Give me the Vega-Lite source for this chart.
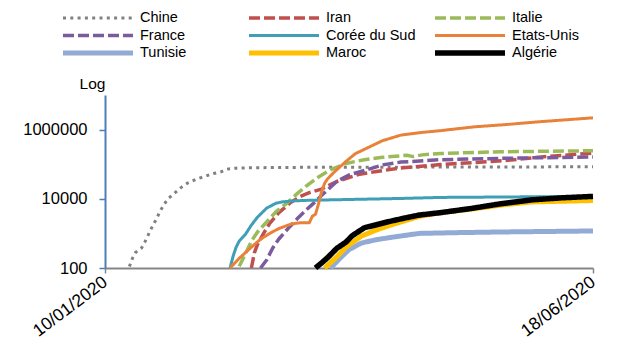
{
  "$schema": "https://vega.github.io/schema/vega-lite/v6.json",
  "autosize": {"type": "none"},
  "width": 488,
  "height": 173,
  "padding": {"left": 105, "top": 95, "right": 31, "bottom": 94},
  "background": "white",
  "config": {"view": {"stroke": null}, "font": "Liberation Sans"},
  "data": {"values": [
    {"pays": "Chine", "date": "2020-01-18", "cas": 110},
    {"pays": "Chine", "date": "2020-01-19", "cas": 190},
    {"pays": "Chine", "date": "2020-01-20", "cas": 280},
    {"pays": "Chine", "date": "2020-01-21", "cas": 330},
    {"pays": "Chine", "date": "2020-01-22", "cas": 380},
    {"pays": "Chine", "date": "2020-01-23", "cas": 550},
    {"pays": "Chine", "date": "2020-01-24", "cas": 830},
    {"pays": "Chine", "date": "2020-01-25", "cas": 1290},
    {"pays": "Chine", "date": "2020-01-26", "cas": 1900},
    {"pays": "Chine", "date": "2020-01-27", "cas": 2750},
    {"pays": "Chine", "date": "2020-01-28", "cas": 4270},
    {"pays": "Chine", "date": "2020-01-29", "cas": 6030},
    {"pays": "Chine", "date": "2020-01-30", "cas": 8300},
    {"pays": "Chine", "date": "2020-01-31", "cas": 10700},
    {"pays": "Chine", "date": "2020-02-02", "cas": 15100},
    {"pays": "Chine", "date": "2020-02-04", "cas": 21400},
    {"pays": "Chine", "date": "2020-02-06", "cas": 28200},
    {"pays": "Chine", "date": "2020-02-09", "cas": 37200},
    {"pays": "Chine", "date": "2020-02-12", "cas": 45000},
    {"pays": "Chine", "date": "2020-02-14", "cas": 52500},
    {"pays": "Chine", "date": "2020-02-17", "cas": 60000},
    {"pays": "Chine", "date": "2020-02-19", "cas": 72000},
    {"pays": "Chine", "date": "2020-02-22", "cas": 77000},
    {"pays": "Chine", "date": "2020-02-27", "cas": 79000},
    {"pays": "Chine", "date": "2020-03-10", "cas": 80800},
    {"pays": "Chine", "date": "2020-04-09", "cas": 82000},
    {"pays": "Chine", "date": "2020-05-19", "cas": 83000},
    {"pays": "Chine", "date": "2020-06-18", "cas": 84500},

    {"pays": "Iran", "date": "2020-02-27", "cas": 100},
    {"pays": "Iran", "date": "2020-02-28", "cas": 280},
    {"pays": "Iran", "date": "2020-02-29", "cas": 480},
    {"pays": "Iran", "date": "2020-03-02", "cas": 1000},
    {"pays": "Iran", "date": "2020-03-04", "cas": 1950},
    {"pays": "Iran", "date": "2020-03-07", "cas": 3980},
    {"pays": "Iran", "date": "2020-03-11", "cas": 7940},
    {"pays": "Iran", "date": "2020-03-14", "cas": 11700},
    {"pays": "Iran", "date": "2020-03-17", "cas": 15100},
    {"pays": "Iran", "date": "2020-03-21", "cas": 19100},
    {"pays": "Iran", "date": "2020-03-26", "cas": 31600},
    {"pays": "Iran", "date": "2020-04-02", "cas": 50100},
    {"pays": "Iran", "date": "2020-04-08", "cas": 61700},
    {"pays": "Iran", "date": "2020-04-16", "cas": 77600},
    {"pays": "Iran", "date": "2020-04-29", "cas": 97700},
    {"pays": "Iran", "date": "2020-05-10", "cas": 112000},
    {"pays": "Iran", "date": "2020-05-21", "cas": 129000},
    {"pays": "Iran", "date": "2020-06-01", "cas": 162000},
    {"pays": "Iran", "date": "2020-06-18", "cas": 209000},

    {"pays": "Italie", "date": "2020-02-23", "cas": 112},
    {"pays": "Italie", "date": "2020-02-25", "cas": 250},
    {"pays": "Italie", "date": "2020-02-27", "cas": 600},
    {"pays": "Italie", "date": "2020-02-29", "cas": 1100},
    {"pays": "Italie", "date": "2020-03-03", "cas": 2140},
    {"pays": "Italie", "date": "2020-03-06", "cas": 4170},
    {"pays": "Italie", "date": "2020-03-10", "cas": 7940},
    {"pays": "Italie", "date": "2020-03-13", "cas": 14100},
    {"pays": "Italie", "date": "2020-03-16", "cas": 23400},
    {"pays": "Italie", "date": "2020-03-20", "cas": 42700},
    {"pays": "Italie", "date": "2020-03-24", "cas": 69200},
    {"pays": "Italie", "date": "2020-03-29", "cas": 105000},
    {"pays": "Italie", "date": "2020-04-04", "cas": 135000},
    {"pays": "Italie", "date": "2020-04-10", "cas": 158000},
    {"pays": "Italie", "date": "2020-04-16", "cas": 174000},
    {"pays": "Italie", "date": "2020-04-18", "cas": 182000},
    {"pays": "Italie", "date": "2020-04-20", "cas": 166000},
    {"pays": "Italie", "date": "2020-04-23", "cas": 186000},
    {"pays": "Italie", "date": "2020-04-29", "cas": 204000},
    {"pays": "Italie", "date": "2020-05-19", "cas": 229000},
    {"pays": "Italie", "date": "2020-06-18", "cas": 245000},

    {"pays": "France", "date": "2020-03-01", "cas": 100},
    {"pays": "France", "date": "2020-03-03", "cas": 170},
    {"pays": "France", "date": "2020-03-05", "cas": 380},
    {"pays": "France", "date": "2020-03-07", "cas": 690},
    {"pays": "France", "date": "2020-03-10", "cas": 1380},
    {"pays": "France", "date": "2020-03-13", "cas": 2630},
    {"pays": "France", "date": "2020-03-16", "cas": 4790},
    {"pays": "France", "date": "2020-03-19", "cas": 8320},
    {"pays": "France", "date": "2020-03-22", "cas": 15100},
    {"pays": "France", "date": "2020-03-26", "cas": 31600},
    {"pays": "France", "date": "2020-03-30", "cas": 49000},
    {"pays": "France", "date": "2020-04-05", "cas": 69200},
    {"pays": "France", "date": "2020-04-10", "cas": 95500},
    {"pays": "France", "date": "2020-04-16", "cas": 115000},
    {"pays": "France", "date": "2020-04-29", "cas": 135000},
    {"pays": "France", "date": "2020-05-19", "cas": 148000},
    {"pays": "France", "date": "2020-06-18", "cas": 162000},

    {"pays": "Corée du Sud", "date": "2020-02-20", "cas": 100},
    {"pays": "Corée du Sud", "date": "2020-02-21", "cas": 220},
    {"pays": "Corée du Sud", "date": "2020-02-22", "cas": 400},
    {"pays": "Corée du Sud", "date": "2020-02-23", "cas": 600},
    {"pays": "Corée du Sud", "date": "2020-02-25", "cas": 930},
    {"pays": "Corée du Sud", "date": "2020-02-27", "cas": 1740},
    {"pays": "Corée du Sud", "date": "2020-02-29", "cas": 2950},
    {"pays": "Corée du Sud", "date": "2020-03-03", "cas": 5370},
    {"pays": "Corée du Sud", "date": "2020-03-06", "cas": 7400},
    {"pays": "Corée du Sud", "date": "2020-03-08", "cas": 8130},
    {"pays": "Corée du Sud", "date": "2020-03-12", "cas": 8700},
    {"pays": "Corée du Sud", "date": "2020-03-16", "cas": 9000},
    {"pays": "Corée du Sud", "date": "2020-03-24", "cas": 9330},
    {"pays": "Corée du Sud", "date": "2020-04-16", "cas": 10230},
    {"pays": "Corée du Sud", "date": "2020-04-29", "cas": 10960},
    {"pays": "Corée du Sud", "date": "2020-06-18", "cas": 11750},

    {"pays": "Etats-Unis", "date": "2020-02-20", "cas": 100},
    {"pays": "Etats-Unis", "date": "2020-02-23", "cas": 190},
    {"pays": "Etats-Unis", "date": "2020-02-27", "cas": 400},
    {"pays": "Etats-Unis", "date": "2020-03-01", "cas": 680},
    {"pays": "Etats-Unis", "date": "2020-03-04", "cas": 1000},
    {"pays": "Etats-Unis", "date": "2020-03-07", "cas": 1380},
    {"pays": "Etats-Unis", "date": "2020-03-11", "cas": 1860},
    {"pays": "Etats-Unis", "date": "2020-03-14", "cas": 2040},
    {"pays": "Etats-Unis", "date": "2020-03-17", "cas": 2040},
    {"pays": "Etats-Unis", "date": "2020-03-18", "cas": 3160},
    {"pays": "Etats-Unis", "date": "2020-03-19", "cas": 3550},
    {"pays": "Etats-Unis", "date": "2020-03-20", "cas": 7080},
    {"pays": "Etats-Unis", "date": "2020-03-21", "cas": 15800},
    {"pays": "Etats-Unis", "date": "2020-03-22", "cas": 28200},
    {"pays": "Etats-Unis", "date": "2020-03-23", "cas": 38000},
    {"pays": "Etats-Unis", "date": "2020-03-25", "cas": 57500},
    {"pays": "Etats-Unis", "date": "2020-03-27", "cas": 83200},
    {"pays": "Etats-Unis", "date": "2020-03-29", "cas": 120000},
    {"pays": "Etats-Unis", "date": "2020-04-01", "cas": 200000},
    {"pays": "Etats-Unis", "date": "2020-04-05", "cas": 295000},
    {"pays": "Etats-Unis", "date": "2020-04-10", "cas": 479000},
    {"pays": "Etats-Unis", "date": "2020-04-16", "cas": 692000},
    {"pays": "Etats-Unis", "date": "2020-04-22", "cas": 813000},
    {"pays": "Etats-Unis", "date": "2020-04-29", "cas": 933000},
    {"pays": "Etats-Unis", "date": "2020-05-10", "cas": 1200000},
    {"pays": "Etats-Unis", "date": "2020-05-21", "cas": 1410000},
    {"pays": "Etats-Unis", "date": "2020-06-01", "cas": 1700000},
    {"pays": "Etats-Unis", "date": "2020-06-18", "cas": 2190000},

    {"pays": "Tunisie", "date": "2020-03-24", "cas": 100},
    {"pays": "Tunisie", "date": "2020-03-27", "cas": 190},
    {"pays": "Tunisie", "date": "2020-03-30", "cas": 340},
    {"pays": "Tunisie", "date": "2020-04-03", "cas": 525},
    {"pays": "Tunisie", "date": "2020-04-08", "cas": 660},
    {"pays": "Tunisie", "date": "2020-04-14", "cas": 795},
    {"pays": "Tunisie", "date": "2020-04-22", "cas": 1000},
    {"pays": "Tunisie", "date": "2020-05-04", "cas": 1050},
    {"pays": "Tunisie", "date": "2020-05-19", "cas": 1100},
    {"pays": "Tunisie", "date": "2020-06-18", "cas": 1175},

    {"pays": "Maroc", "date": "2020-03-22", "cas": 100},
    {"pays": "Maroc", "date": "2020-03-26", "cas": 210},
    {"pays": "Maroc", "date": "2020-03-29", "cas": 400},
    {"pays": "Maroc", "date": "2020-04-03", "cas": 830},
    {"pays": "Maroc", "date": "2020-04-08", "cas": 1260},
    {"pays": "Maroc", "date": "2020-04-13", "cas": 1780},
    {"pays": "Maroc", "date": "2020-04-22", "cas": 3090},
    {"pays": "Maroc", "date": "2020-04-29", "cas": 3980},
    {"pays": "Maroc", "date": "2020-05-09", "cas": 5010},
    {"pays": "Maroc", "date": "2020-05-19", "cas": 6610},
    {"pays": "Maroc", "date": "2020-05-29", "cas": 8130},
    {"pays": "Maroc", "date": "2020-06-08", "cas": 8510},
    {"pays": "Maroc", "date": "2020-06-18", "cas": 8910},

    {"pays": "Algérie", "date": "2020-03-19", "cas": 100},
    {"pays": "Algérie", "date": "2020-03-21", "cas": 140},
    {"pays": "Algérie", "date": "2020-03-23", "cas": 200},
    {"pays": "Algérie", "date": "2020-03-26", "cas": 370},
    {"pays": "Algérie", "date": "2020-03-29", "cas": 560},
    {"pays": "Algérie", "date": "2020-03-31", "cas": 850},
    {"pays": "Algérie", "date": "2020-04-04", "cas": 1450},
    {"pays": "Algérie", "date": "2020-04-08", "cas": 1780},
    {"pays": "Algérie", "date": "2020-04-12", "cas": 2190},
    {"pays": "Algérie", "date": "2020-04-17", "cas": 2750},
    {"pays": "Algérie", "date": "2020-04-22", "cas": 3390},
    {"pays": "Algérie", "date": "2020-04-29", "cas": 3980},
    {"pays": "Algérie", "date": "2020-05-09", "cas": 5250},
    {"pays": "Algérie", "date": "2020-05-19", "cas": 7240},
    {"pays": "Algérie", "date": "2020-05-29", "cas": 9330},
    {"pays": "Algérie", "date": "2020-06-08", "cas": 10700},
    {"pays": "Algérie", "date": "2020-06-18", "cas": 11750}
  ]},
  "mark": {"type": "line", "strokeJoin": "round", "strokeCap": "butt"},
  "encoding": {
    "x": {
      "field": "date", "type": "temporal",
      "scale": {"type": "utc", "domain": [{"year": 2020, "month": 1, "date": 10, "utc": true}, {"year": 2020, "month": 6, "date": 18, "utc": true}]},
      "axis": {
        "title": null,
        "values": [{"year": 2020, "month": 1, "date": 10, "utc": true}, {"year": 2020, "month": 6, "date": 18, "utc": true}],
        "labelExpr": "utcFormat(datum.value, '%d/%m/%Y')",
        "labelAngle": -37, "labelAlign": "right", "labelBaseline": "middle",
        "labelFontSize": 17.5, "labelColor": "#000000", "labelPadding": 7,
        "labelFont": "Liberation Sans",
        "domainColor": "#868686", "domainWidth": 2,
        "tickColor": "#868686", "tickWidth": 1.5, "tickSize": 5,
        "grid": false, "labelOverlap": false, "labelBound": false
      }
    },
    "y": {
      "field": "cas", "type": "quantitative",
      "scale": {"type": "log", "domain": [100, 10000000]},
      "axis": {
        "title": "Log", "titleAngle": 0, "titleX": -13, "titleY": -7,
        "titleAlign": "center", "titleBaseline": "alphabetic",
        "titleFontSize": 15.5, "titleFontWeight": "normal", "titleColor": "#000000",
        "titleFont": "Liberation Sans",
        "values": [100, 10000, 1000000], "format": "d",
        "labelFontSize": 16.5, "labelColor": "#000000", "labelPadding": 12,
        "labelFont": "Liberation Sans",
        "domainColor": "#4A7EBB", "domainWidth": 2,
        "tickColor": "#4A7EBB", "tickWidth": 1.5, "tickSize": 6,
        "grid": false
      }
    },
    "color": {
      "field": "pays", "type": "nominal",
      "scale": {
        "domain": ["Chine", "Iran", "Italie", "France", "Corée du Sud", "Etats-Unis", "Tunisie", "Maroc", "Algérie"],
        "range": ["#808080", "#C0504D", "#9BBB59", "#7A5C9E", "#3E9FB6", "#E8823A", "#92ABD4", "#FFC000", "#000000"]
      },
      "legend": {
        "title": null, "orient": "none", "legendX": -45, "legendY": -85,
        "direction": "horizontal", "clipHeight": 16,
        "columns": 3, "gridAlign": "all", "columnPadding": 16, "rowPadding": 1.5,
        "symbolType": "stroke", "symbolSize": 4900, "labelOffset": 4,
        "labelFontSize": 14.5, "labelColor": "#000000", "labelFont": "Liberation Sans",
        "labelLimit": 200
      }
    },
    "strokeDash": {
      "field": "pays", "type": "nominal",
      "scale": {
        "domain": ["Chine", "Iran", "Italie", "France", "Corée du Sud", "Etats-Unis", "Tunisie", "Maroc", "Algérie"],
        "range": [[3, 4.3], [11, 4], [11, 4], [11, 4], [1, 0], [1, 0], [1, 0], [1, 0], [1, 0]]
      }
    },
    "strokeWidth": {
      "field": "pays", "type": "nominal",
      "scale": {
        "type": "ordinal",
        "domain": ["Chine", "Iran", "Italie", "France", "Corée du Sud", "Etats-Unis", "Tunisie", "Maroc", "Algérie"],
        "range": [3, 3.5, 3.5, 3.5, 3, 3, 5, 5, 5.5]
      }
    }
  }
}
